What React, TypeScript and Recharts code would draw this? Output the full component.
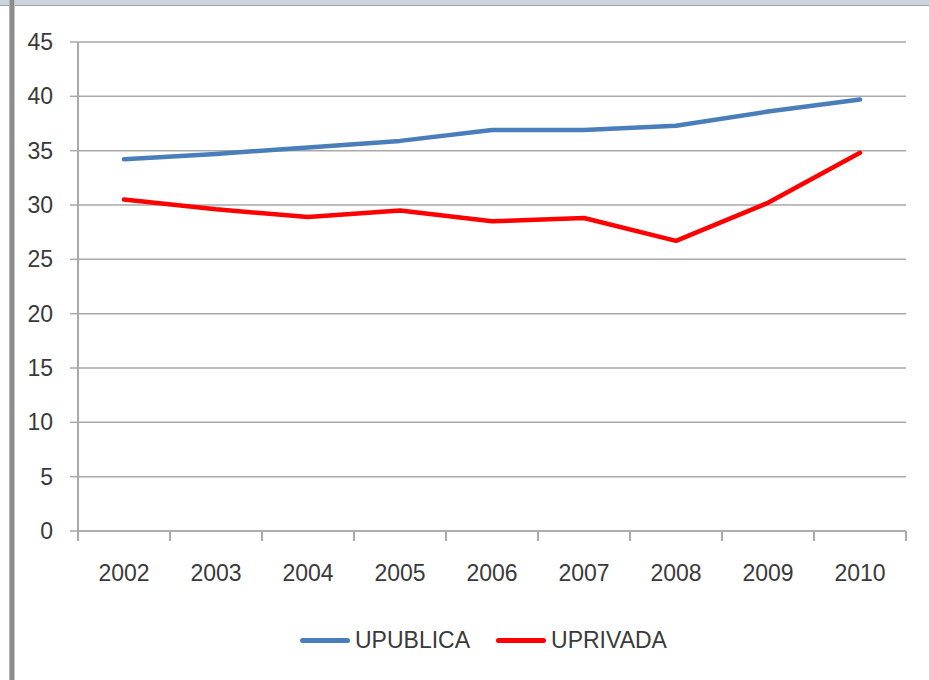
import React from 'react';
import { LineChart, Line, XAxis, YAxis, CartesianGrid, Legend } from 'recharts';

const years = ['2002', '2003', '2004', '2005', '2006', '2007', '2008', '2009', '2010'];
const upublica = [34.2, 34.7, 35.3, 35.9, 36.9, 36.9, 37.3, 38.6, 39.7];
const uprivada = [30.5, 29.6, 28.9, 29.5, 28.5, 28.8, 26.7, 30.2, 34.8];
const yTicks = [0, 5, 10, 15, 20, 25, 30, 35, 40, 45];
const seriesOrder = ['UPUBLICA', 'UPRIVADA'];

const data = years.map((year, i) => ({
  pos: i + 0.5,
  year,
  UPUBLICA: upublica[i],
  UPRIVADA: uprivada[i],
}));

const xTicks: number[] = [];
for (let i = 0; i <= years.length; i++) {
  xTicks.push(i);
  if (i < years.length) xTicks.push(i + 0.5);
}

const GRID = '#a9a9a9';
const TEXT = '#3a3a3a';
const FONT = '"Liberation Sans Narrow", "Liberation Sans", Arial, sans-serif';

const XTick = (props: any) => {
  const { x, y, payload } = props;
  const v = payload.value;
  if (Number.isInteger(v)) {
    return <line x1={x} x2={x} y1={y} y2={y + 10} stroke={GRID} strokeWidth={2} />;
  }
  const label = years[Math.floor(v)];
  return (
    <text x={x} y={y + 50} textAnchor="middle" fontSize={23} fill={TEXT} fontFamily={FONT}>
      {label}
    </text>
  );
};

const renderLegend = (props: any) => {
  const payload = [...(props.payload || [])].sort(
    (a: any, b: any) => seriesOrder.indexOf(a.value) - seriesOrder.indexOf(b.value)
  );
  return (
    <div style={{ display: 'flex', alignItems: 'center', height: 40, paddingLeft: 300, fontFamily: FONT }}>
      {payload.map((p: any, i: number) => (
        <div key={i} style={{ display: 'flex', alignItems: 'center', marginRight: 26 }}>
          <div style={{ width: 50, height: 5, borderRadius: 3, background: p.color, marginRight: 5 }} />
          <span style={{ fontSize: 23, color: TEXT }}>{p.value}</span>
        </div>
      ))}
    </div>
  );
};

export default function App() {
  return (
    <div style={{ position: 'absolute', left: 0, top: 0, width: 929, height: 680, background: '#fff', fontFamily: FONT, overflow: 'hidden' }}>
      <LineChart width={929} height={680} data={data} margin={{ top: 42, right: 23, left: 0, bottom: 49 }}>
        <CartesianGrid vertical={false} stroke={GRID} strokeWidth={1.5} />
        <XAxis
          dataKey="pos"
          type="number"
          domain={[0, years.length]}
          ticks={xTicks}
          interval={0}
          tick={<XTick />}
          tickLine={false}
          tickSize={0}
          tickMargin={0}
          height={60}
          axisLine={{ stroke: GRID, strokeWidth: 1.5 }}
        />
        <YAxis
          domain={[0, 45]}
          ticks={yTicks}
          interval={0}
          width={78}
          tickSize={8}
          tickMargin={17}
          axisLine={{ stroke: GRID, strokeWidth: 2 }}
          tickLine={{ stroke: GRID, strokeWidth: 1.5 }}
          tick={{ fontSize: 23, fill: TEXT, fontFamily: FONT }}
        />
        <Legend
          verticalAlign="bottom"
          content={renderLegend}
          wrapperStyle={{ top: 620, left: 0, bottom: 'auto', width: 929, height: 40 }}
        />
        <Line
          type="linear"
          dataKey="UPUBLICA"
          stroke="#4a7ebb"
          strokeWidth={4.5}
          dot={false}
          strokeLinejoin="round"
          strokeLinecap="round"
          isAnimationActive={false}
        />
        <Line
          type="linear"
          dataKey="UPRIVADA"
          stroke="#ff0000"
          strokeWidth={4.5}
          dot={false}
          strokeLinejoin="round"
          strokeLinecap="round"
          isAnimationActive={false}
        />
      </LineChart>
      <div style={{ position: 'absolute', left: 0, top: 0, width: 929, height: 5, background: '#cbd4dc', borderBottom: '1px solid #9aa3ab' }} />
      <div style={{ position: 'absolute', left: 9, top: 0, width: 4, height: 680, background: '#8c8c8c', borderLeft: '1px solid #b5b5b5', borderRight: '1px solid #c4c4c4' }} />
    </div>
  );
}
